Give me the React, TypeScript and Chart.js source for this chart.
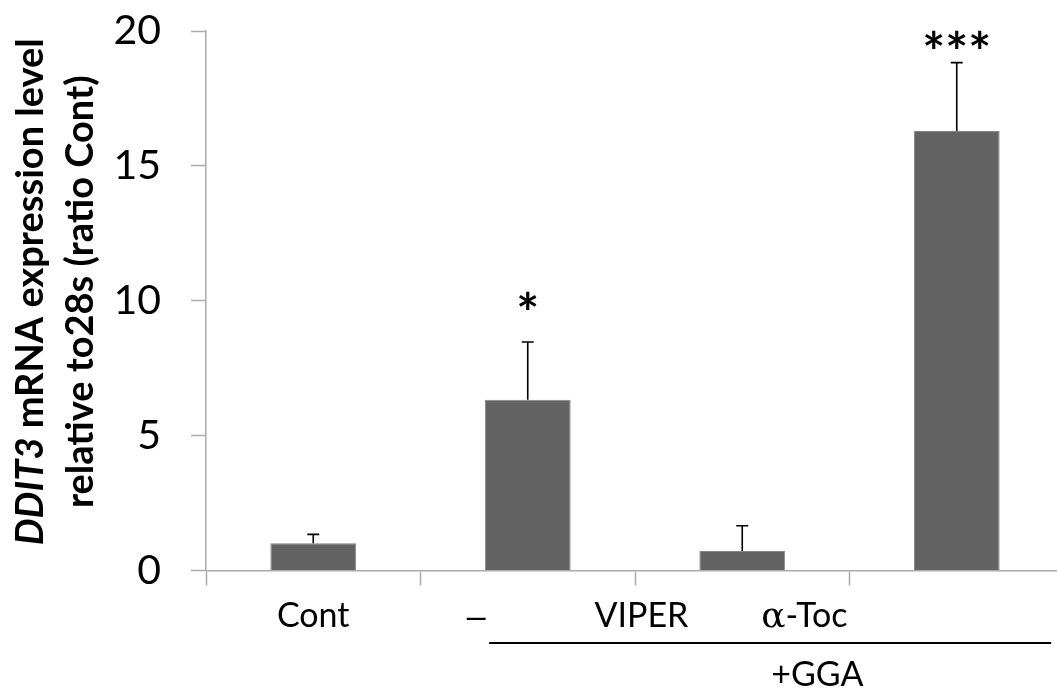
import React, { useEffect, useRef } from 'react';
import { Chart, registerables } from 'chart.js';

Chart.register(...registerables);

const FONT = "Lato, 'Open Sans', sans-serif";

// ---- data ----
const categories = ['Cont', '–', 'VIPER', 'α-Toc'];
const values = [1.01, 6.33, 0.72, 16.29];
const errors = [0.33, 2.14, 0.94, 2.54];
const significance = ['', '*', '', '***'];
const significanceY = [0, 10.0, 0, 19.7];
const yTicks = [0, 5, 10, 15, 20];
// category-unit positions of the text labels under the axis
const labelPositions = [0, 0.76, 1.53, 2.29];
const groupLabel = '+GGA';
const groupLabelPos = 2.35;
const groupLineFrom = 0.82;
const groupLineTo = 3.44;
const titleItalic = 'DDIT3';
const titleRest = ' mRNA expression level';
const titleLine2 = 'relative to28s (ratio Cont)';

const AXIS_COLOR = '#ababab';

// draw a label; Greek letters in a serif face, dashes in Liberation Sans
function drawLabel(ctx: CanvasRenderingContext2D, text: string, cx: number, base: number, size: number) {
  const segs: { t: string; f: string }[] = [];
  for (const ch of text) {
    let f = `${size}px ${FONT}`;
    if (/[α-ω]/.test(ch)) f = `${size + 2}px 'DejaVu Serif', 'Liberation Serif', serif`;
    else if (ch === '–') f = `${size}px 'Liberation Sans', sans-serif`;
    const last = segs[segs.length - 1];
    if (last && last.f === f) last.t += ch;
    else segs.push({ t: ch, f });
  }
  let total = 0;
  const widths = segs.map((s) => {
    ctx.font = s.f;
    const w = ctx.measureText(s.t).width;
    total += w;
    return w;
  });
  let x = cx - total / 2;
  ctx.textAlign = 'left';
  segs.forEach((s, i) => {
    ctx.font = s.f;
    ctx.fillText(s.t, x, base);
    x += widths[i];
  });
}

const annotate = {
  id: 'annotate',
  afterDatasetsDraw(chart: any) {
    const ctx: CanvasRenderingContext2D = chart.ctx;
    const xs = chart.scales.x;
    const ys = chart.scales.y;
    const meta = chart.getDatasetMeta(0);
    const area = chart.chartArea;
    ctx.save();
    // error bars (upper only)
    ctx.strokeStyle = '#000';
    ctx.lineWidth = 1.6;
    meta.data.forEach((bar: any, i: number) => {
      const top = ys.getPixelForValue(values[i] + errors[i]);
      ctx.beginPath();
      ctx.moveTo(bar.x, bar.y);
      ctx.lineTo(bar.x, top);
      ctx.moveTo(bar.x - 6, top);
      ctx.lineTo(bar.x + 6, top);
      ctx.stroke();
    });
    // significance stars
    ctx.fillStyle = '#000';
    ctx.font = `bold 54px ${FONT}`;
    ctx.textAlign = 'center';
    ctx.textBaseline = 'alphabetic';
    significance.forEach((s, i) => {
      if (!s) return;
      const m = ctx.measureText(s);
      const cy = ys.getPixelForValue(significanceY[i]);
      const base = cy + (m.actualBoundingBoxAscent - m.actualBoundingBoxDescent) / 2;
      ctx.fillText(s, xs.getPixelForValue(i), base);
    });
    // category labels
    categories.forEach((c, i) => {
      drawLabel(ctx, c, xs.getPixelForValue(labelPositions[i]), area.bottom + 56.5, 34);
    });
    // group line and label
    ctx.lineWidth = 2;
    ctx.beginPath();
    ctx.moveTo(xs.getPixelForValue(groupLineFrom), area.bottom + 72.5);
    ctx.lineTo(xs.getPixelForValue(groupLineTo), area.bottom + 72.5);
    ctx.stroke();
    drawLabel(ctx, groupLabel, xs.getPixelForValue(groupLabelPos), area.bottom + 115.5, 34);
    // y title (rotated, two lines)
    const cy = (area.top + area.bottom) / 2 - 9;
    ctx.textAlign = 'left';
    const fontI = `italic bold 38px ${FONT}`;
    const fontB = `bold 38px ${FONT}`;
    ctx.font = fontI;
    const wI = ctx.measureText(titleItalic).width;
    ctx.font = fontB;
    const wR = ctx.measureText(titleRest).width;
    const w2 = ctx.measureText(titleLine2).width;
    ctx.save();
    ctx.translate(43, cy);
    ctx.rotate(-Math.PI / 2);
    const start = -(wI + wR) / 2;
    ctx.font = fontI;
    ctx.fillText(titleItalic, start, 0);
    ctx.font = fontB;
    ctx.fillText(titleRest, start + wI, 0);
    ctx.restore();
    ctx.save();
    ctx.translate(93, cy);
    ctx.rotate(-Math.PI / 2);
    ctx.fillText(titleLine2, -w2 / 2, 0);
    ctx.restore();
    ctx.restore();
  },
};

export default function App() {
  const ref = useRef<HTMLCanvasElement | null>(null);
  useEffect(() => {
    if (!ref.current) return;
    const chart = new Chart(ref.current, {
      type: 'bar',
      data: {
        labels: categories,
        datasets: [
          {
            data: values,
            backgroundColor: '#636363',
            borderColor: '#858585',
            borderWidth: 1,
            barPercentage: 0.4,
            categoryPercentage: 1,
          },
        ],
      },
      options: {
        animation: false,
        responsive: false,
        devicePixelRatio: 1,
        layout: { padding: { left: 0, top: 0, right: 6, bottom: 0 } },
        plugins: { legend: { display: false }, tooltip: { enabled: false } },
        scales: {
          x: {
            type: 'category',
            ticks: { display: false },
            grid: {
              offset: true,
              drawOnChartArea: false,
              drawTicks: true,
              tickLength: 15,
              tickColor: AXIS_COLOR,
              tickWidth: 1.5,
            },
            border: { color: AXIS_COLOR, width: 1.5 },
            afterFit: (s: any) => {
              s.height = 118.5;
            },
          },
          y: {
            min: yTicks[0],
            max: yTicks[yTicks.length - 1],
            afterBuildTicks: (s: any) => {
              s.ticks = yTicks.map((v) => ({ value: v }));
            },
            ticks: {
              color: '#000',
              padding: 30,
              font: { family: FONT, size: 41, lineHeight: 0.05 },
            },
            grid: {
              drawOnChartArea: false,
              drawTicks: true,
              tickLength: 15,
              tickColor: AXIS_COLOR,
              tickWidth: 1.5,
            },
            border: { color: AXIS_COLOR, width: 1.5 },
            afterFit: (s: any) => {
              s.width = 206;
            },
          },
        },
      },
      plugins: [annotate],
    });
    return () => chart.destroy();
  }, []);
  return (
    <div
      style={{
        position: 'fixed',
        left: 0,
        top: 0,
        width: 1057,
        height: 689,
        overflow: 'hidden',
        background: '#fff',
      }}
    >
      <canvas ref={ref} width={1070} height={689} style={{ display: 'block' }} />
    </div>
  );
}
